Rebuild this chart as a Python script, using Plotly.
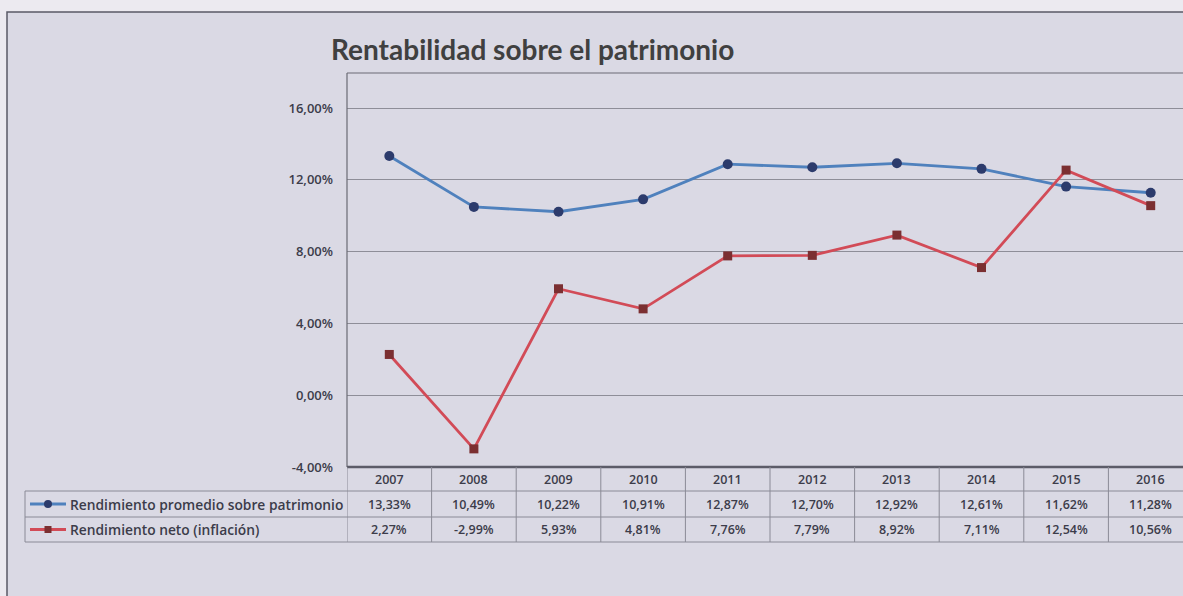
import plotly.graph_objects as go

W, H = 1183, 596          # design space (reference picture)
FIG_H = 605               # page height actually captured by the photograph

years = ["2007", "2008", "2009", "2010", "2011", "2012", "2013", "2014", "2015", "2016"]
rend_promedio = [13.33, 10.49, 10.22, 10.91, 12.87, 12.70, 12.92, 12.61, 11.62, 11.28]
rend_neto = [2.27, -2.99, 5.93, 4.81, 7.76, 7.79, 8.92, 7.11, 12.54, 10.56]
series_names = ["Rendimiento promedio sobre patrimonio", "Rendimiento neto (inflación)"]
title_text = "Rentabilidad sobre el patrimonio"
y_tickvals = [-4, 0, 4, 8, 12, 16]
y_ticktext = ["-4,00%", "0,00%", "4,00%", "8,00%", "12,00%", "16,00%"]

FONT = "'Open Sans', sans-serif"
TITLE_FONT = "Lato, 'Open Sans', sans-serif"
TXT = "#3c3c4a"
BLUE_LINE = "#4f81bd"
BLUE_MK = "#2c3b6c"
RED_LINE = "#d24b57"
RED_MK = "#7b2f31"


def px(x):
    return x / W


def py(y):
    return 1 - y / H


# pixel geometry
plot_left, plot_top, plot_bottom = 347, 73, 467
col_w = 84.6
x_range_right = 9.5 - (plot_left + 10 * col_w - W) / col_w
row_lines = [467, 491, 517, 542]

fig = go.Figure()
fig.add_trace(go.Scatter(
    x=years, y=rend_promedio, mode="lines+markers", name=series_names[0],
    line=dict(color=BLUE_LINE, width=2.8),
    marker=dict(symbol="circle", size=10, color=BLUE_MK),
))
fig.add_trace(go.Scatter(
    x=years, y=rend_neto, mode="lines+markers", name=series_names[1],
    line=dict(color=RED_LINE, width=2.8),
    marker=dict(symbol="square", size=9, color=RED_MK),
))

shapes = []
# chart area fill and border (extends past right/bottom edges as in the photo)
shapes.append(dict(type="rect", xref="paper", yref="paper", x0=px(7), x1=px(W + 40), y0=py(H + 40), y1=py(12),
                   fillcolor="#dad9e4", line=dict(color="#5a5a66", width=1.5), layer="below"))
# plot area border (left & top)
shapes.append(dict(type="line", xref="paper", yref="paper", x0=px(plot_left), x1=px(plot_left),
                   y0=py(plot_bottom), y1=py(plot_top), line=dict(color="#6a6a74", width=1.2)))
shapes.append(dict(type="line", xref="paper", yref="paper", x0=px(plot_left), x1=1,
                   y0=py(plot_top), y1=py(plot_top), line=dict(color="#6a6a74", width=1.2)))
# table horizontal lines
for i, ry in enumerate(row_lines):
    x0 = px(plot_left) if i == 0 else px(25)
    shapes.append(dict(type="line", xref="paper", yref="paper", x0=x0, x1=1, y0=py(ry), y1=py(ry),
                       line=dict(color="#5c5c68" if i == 0 else "#8a8a96", width=2.4 if i == 0 else 1)))
# table vertical lines
for i in range(len(years) + 1):
    shapes.append(dict(type="line", xref="x", yref="paper", x0=i - 0.5, x1=i - 0.5,
                       y0=py(row_lines[-1]), y1=py(row_lines[0]), line=dict(color="#8a8a96", width=1)))
shapes.append(dict(type="line", xref="paper", yref="paper", x0=px(25), x1=px(25),
                   y0=py(row_lines[-1]), y1=py(row_lines[1]), line=dict(color="#8a8a96", width=1)))

# legend keys inside table
key_specs = [(BLUE_LINE, BLUE_MK, "circle"), (RED_LINE, RED_MK, "rect")]
for k, (lc, mc, shp) in enumerate(key_specs):
    cy = (row_lines[k + 1] + row_lines[k + 2]) / 2
    shapes.append(dict(type="line", xref="paper", yref="paper", x0=px(30), x1=px(66), y0=py(cy), y1=py(cy),
                       line=dict(color=lc, width=2.8)))
    if shp == "circle":
        shapes.append(dict(type="circle", xref="paper", yref="paper", x0=px(44), x1=px(52),
                           y0=py(cy + 4), y1=py(cy - 4), fillcolor=mc, line=dict(width=0)))
    else:
        shapes.append(dict(type="rect", xref="paper", yref="paper", x0=px(44.5), x1=px(51.5),
                           y0=py(cy + 3.5), y1=py(cy - 3.5), fillcolor=mc, line=dict(width=0)))

annotations = []
annotations.append(dict(text=f"<b>{title_text}</b>", xref="paper", yref="paper", x=px(329), y=py(49),
                        xanchor="left", yanchor="middle", showarrow=False,
                        font=dict(family=TITLE_FONT, size=28, color="#404040")))
# header years
for i, yr in enumerate(years):
    annotations.append(dict(text=yr, xref="x", yref="paper", x=i, y=py((row_lines[0] + row_lines[1]) / 2 + 1),
                            showarrow=False, xanchor="center", yanchor="middle",
                            font=dict(family=FONT, size=12.5, color=TXT, weight=600)))
# values
for r, vals in enumerate([rend_promedio, rend_neto]):
    cy = (row_lines[r + 1] + row_lines[r + 2]) / 2
    for i, v in enumerate(vals):
        annotations.append(dict(text=f"{v:.2f}".replace(".", ",") + "%", xref="x", yref="paper", x=i,
                                y=py(cy), showarrow=False, xanchor="center", yanchor="middle",
                                font=dict(family=FONT, size=12.5, color=TXT, weight=600)))
    annotations.append(dict(text=series_names[r], xref="paper", yref="paper", x=px(68), y=py(cy),
                            showarrow=False, xanchor="left", yanchor="middle",
                            font=dict(family=FONT, size=13.8, color=TXT, weight=600)))

fig.update_layout(
    width=W, height=FIG_H,
    autosize=False,
    margin=dict(l=0, r=0, t=0, b=0),
    paper_bgcolor="#eceaf0",
    plot_bgcolor="rgba(0,0,0,0)",
    showlegend=False,
    shapes=shapes,
    annotations=annotations,
    xaxis=dict(domain=[px(plot_left), 1], range=[-0.5, x_range_right], type="category",
               showticklabels=False, showgrid=False, zeroline=False, showline=False, fixedrange=True),
    yaxis=dict(domain=[py(plot_bottom), py(plot_top)], range=[-4, 17.95], tickvals=y_tickvals,
               ticktext=y_ticktext, showgrid=True, gridcolor="#8e8e98", gridwidth=1, zeroline=False,
               showline=False, ticks="", ticklabelstandoff=13,
               tickfont=dict(family=FONT, size=13, color=TXT, weight=600), fixedrange=True),
)

fig.write_html(
    "out.html",
    config={"displayModeBar": False, "responsive": False},
    default_width=f"{W}px",
    default_height=f"{FIG_H}px",
    post_script=(
        "var d=document.documentElement,b=document.body;"
        "d.style.margin='0';d.style.padding='0';"
        "b.style.margin='0';b.style.padding='0';b.style.overflow='hidden';"
        "b.style.background='#dad9e4';"
    ),
)
